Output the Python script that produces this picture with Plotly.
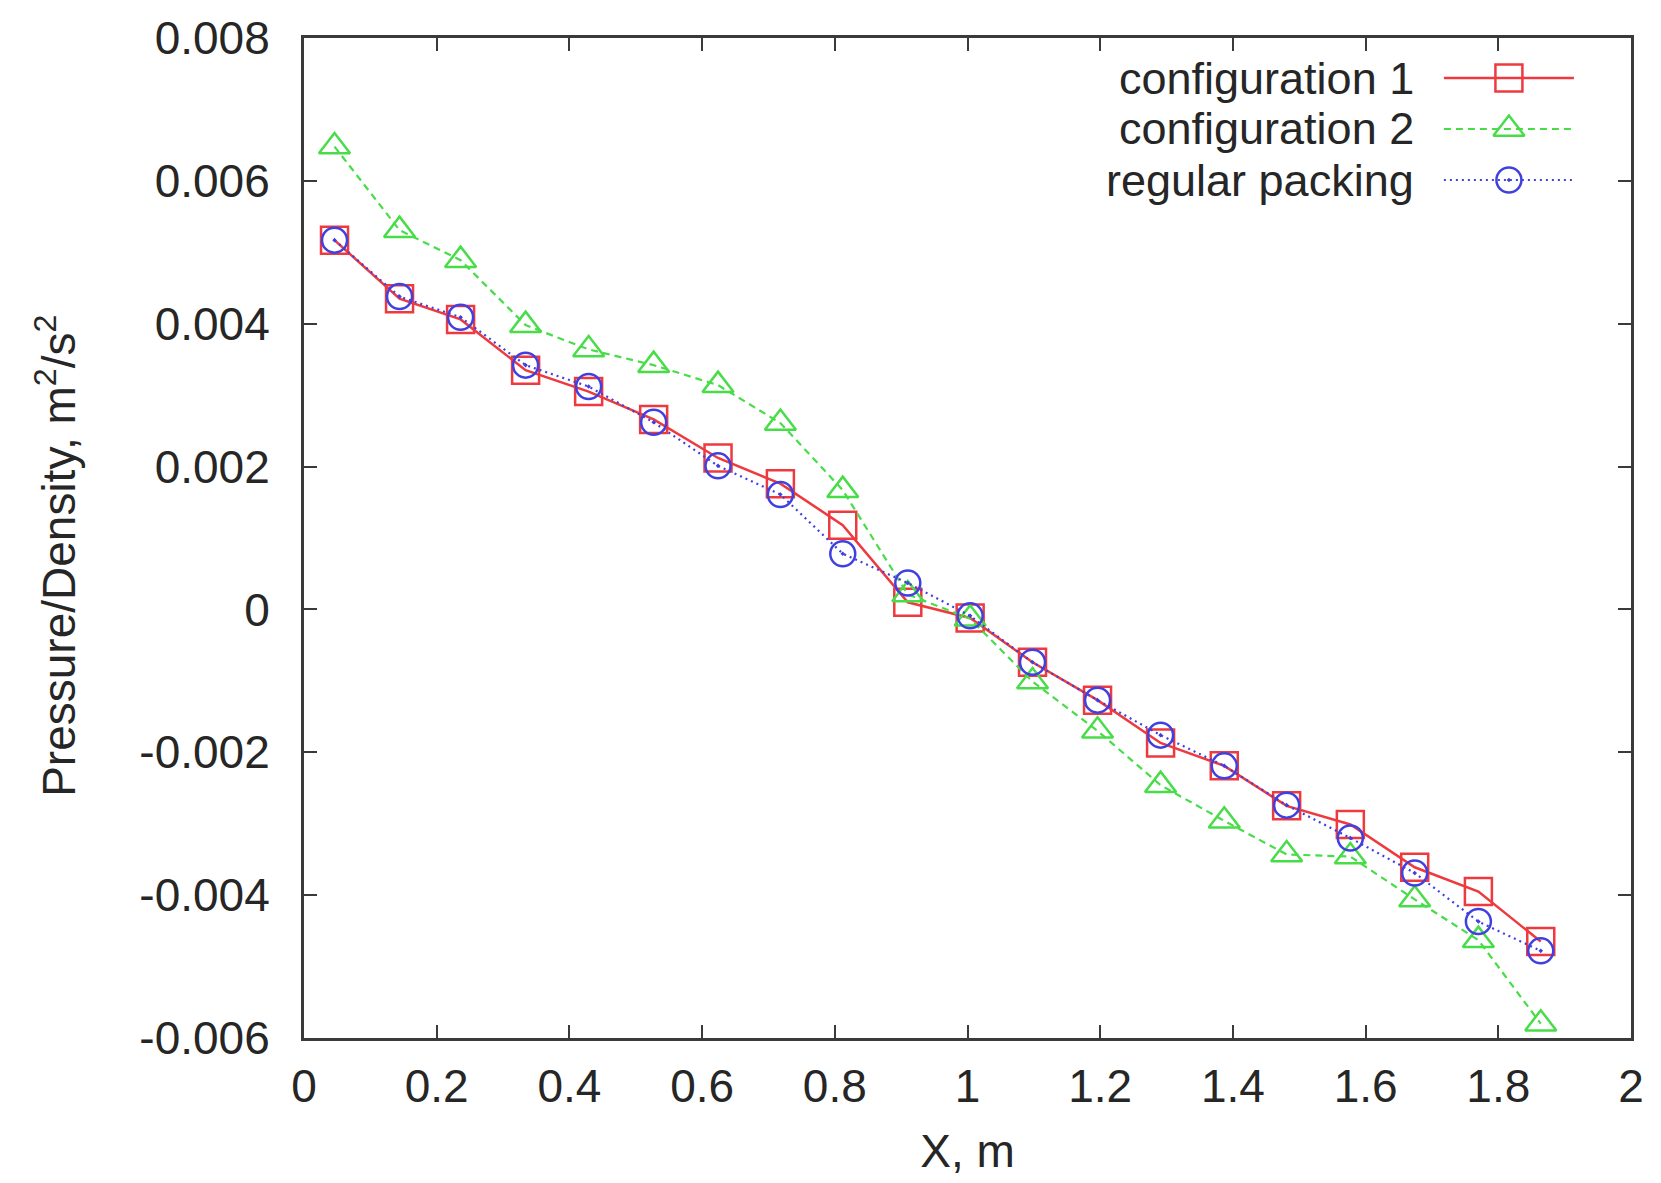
import plotly.graph_objects as go

# Sampling positions along the bed (m)
x_pos = [0.046, 0.144, 0.236, 0.334, 0.429, 0.527, 0.624, 0.718, 0.812, 0.910,
         1.004, 1.098, 1.196, 1.291, 1.387, 1.481, 1.577, 1.674, 1.770, 1.864]

# Pressure/density profiles (m^2/s^2)
config1 = [0.00517, 0.00435, 0.00406, 0.00335, 0.00305, 0.00266, 0.00212, 0.00176,
           0.00118, 0.00010, -0.00012, -0.00074, -0.00127, -0.00187, -0.00219,
           -0.00275, -0.00301, -0.00361, -0.00395, -0.00465]
config2 = [0.00648, 0.00531, 0.00489, 0.00398, 0.00364, 0.00342, 0.00314, 0.00261,
           0.00167, 0.00021, -0.00013, -0.00101, -0.00170, -0.00246, -0.00296,
           -0.00343, -0.00346, -0.00406, -0.00463, -0.00580]
regular = [0.00517, 0.00438, 0.00409, 0.00342, 0.00312, 0.00262, 0.00201, 0.00161,
           0.00078, 0.00037, -0.00009, -0.00074, -0.00127, -0.00176, -0.00219,
           -0.00274, -0.00320, -0.00369, -0.00437, -0.00478]

series_names = ["configuration 1", "configuration 2", "regular packing"]

x_tickvals = [0, 0.2, 0.4, 0.6, 0.8, 1.0, 1.2, 1.4, 1.6, 1.8, 2.0]
x_ticktext = ["0", "0.2", "0.4", "0.6", "0.8", "1", "1.2", "1.4", "1.6", "1.8", "2"]
y_tickvals = [-0.006, -0.004, -0.002, 0, 0.002, 0.004, 0.006, 0.008]
y_ticktext = ["-0.006", "-0.004", "-0.002", "0", "0.002", "0.004", "0.006", "0.008"]

FONT = "Liberation Sans, Arial, Helvetica, sans-serif"
FS = 46
KEY_FS = 45
TEXT = "#262626"
AXIS = "#3a3a3a"

styles = [
    dict(color="#ee3a3e", dash="solid", symbol="square-open", size=27, width=2.5),
    dict(color="#48dd48", dash="7px,5px", symbol="triangle-up-open", size=27, width=2.2),
    dict(color="#4040e0", dash="2px,4px", symbol="circle-open-dot", size=25, width=2.2),
]

fig = go.Figure()
for name, ys, st in zip(series_names, [config1, config2, regular], styles):
    fig.add_trace(go.Scatter(
        x=x_pos, y=ys, name=name, mode="lines+markers",
        line=dict(color=st["color"], width=st["width"], dash=st["dash"]),
        marker=dict(symbol=st["symbol"], size=st["size"], color=st["color"],
                    line=dict(color=st["color"], width=2.5)),
        showlegend=False,
    ))

# Key in the upper-right corner: label on the left, line sample on the right
row_y = [0.960, 0.909, 0.858]
sample_x0, sample_x1, sample_mid, text_right = 0.859, 0.957, 0.908, 0.838
for name, st, ry in zip(series_names, styles, row_y):
    fig.add_shape(type="line", xref="paper", yref="paper",
                  x0=sample_x0, x1=sample_x1, y0=ry, y1=ry,
                  line=dict(color=st["color"], width=st["width"], dash=st["dash"]))
    fig.add_annotation(x=text_right, y=ry, xref="paper", yref="paper",
                       text=name, showarrow=False, xanchor="right", yanchor="middle",
                       font=dict(family=FONT, size=KEY_FS, color=TEXT))
    fig.add_trace(go.Scatter(
        x=[sample_mid], y=[ry], xaxis="x2", yaxis="y2", mode="markers",
        marker=dict(symbol=st["symbol"], size=st["size"], color=st["color"],
                    line=dict(color=st["color"], width=2.5)),
        showlegend=False, hoverinfo="skip",
    ))

# Vertical axis title
fig.add_annotation(x=-0.187, y=0.482, xref="paper", yref="paper",
                   text="Pressure/Density, m<sup>2</sup>/s<sup>2</sup>",
                   textangle=-90, showarrow=False, xanchor="center", yanchor="middle",
                   font=dict(family=FONT, size=FS, color=TEXT))

fig.update_layout(
    width=1661, height=1183,
    margin=dict(l=304, r=30, t=36, b=145),
    paper_bgcolor="white", plot_bgcolor="white",
    font=dict(family=FONT, size=FS, color=TEXT),
    xaxis=dict(
        range=[0, 2], tickvals=x_tickvals, ticktext=x_ticktext,
        showgrid=False, zeroline=False,
        showline=True, linecolor=AXIS, linewidth=3, mirror="ticks",
        ticks="inside", ticklen=13, tickwidth=2, tickcolor=AXIS,
        ticklabelstandoff=6,
        tickfont=dict(family=FONT, size=FS, color=TEXT),
        title=dict(text="X, m", standoff=24,
                   font=dict(family=FONT, size=FS, color=TEXT)),
    ),
    yaxis=dict(
        range=[-0.006, 0.008], tickvals=y_tickvals, ticktext=y_ticktext,
        showgrid=False, zeroline=False,
        showline=True, linecolor=AXIS, linewidth=3, mirror="ticks",
        ticks="inside", ticklen=13, tickwidth=2, tickcolor=AXIS,
        ticklabelstandoff=22,
        tickfont=dict(family=FONT, size=FS, color=TEXT),
    ),
    xaxis2=dict(domain=[0, 1], range=[0, 1], overlaying="x", visible=False),
    yaxis2=dict(domain=[0, 1], range=[0, 1], overlaying="y", visible=False),
)

fig.write_html("out.html")
